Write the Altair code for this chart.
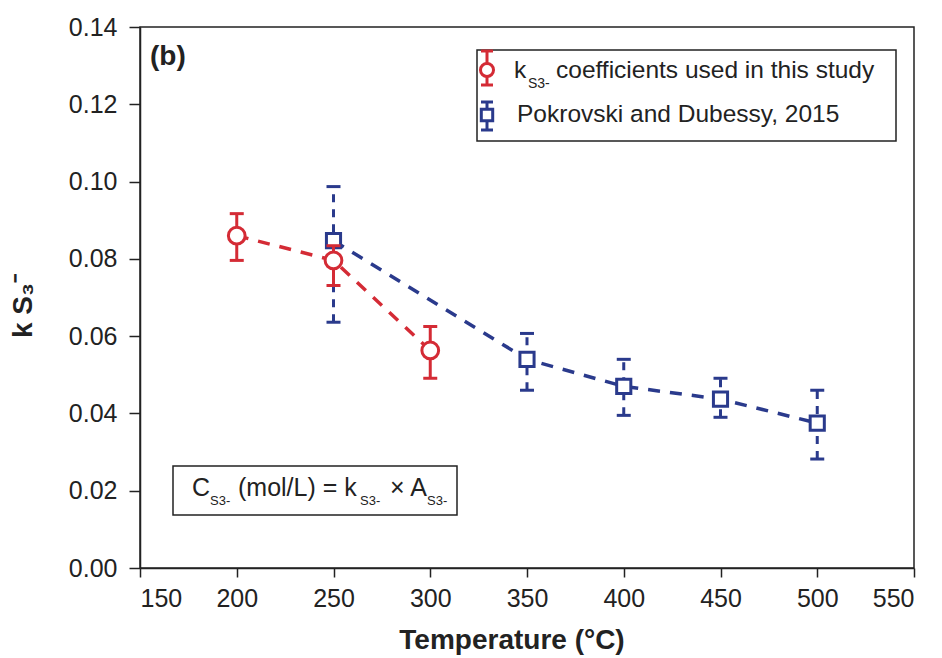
import altair as alt
import pandas as pd

# ---------------- data ----------------
red_T = [200, 250, 300]
red_k = [0.0860, 0.0796, 0.0563]
red_lo = [0.0796, 0.0731, 0.0491]
red_hi = [0.0917, 0.0834, 0.0625]

blue_T = [250, 350, 400, 450, 500]
blue_k = [0.0847, 0.0540, 0.0470, 0.0437, 0.0375]
blue_lo = [0.0636, 0.0460, 0.0395, 0.0390, 0.0282]
blue_hi = [0.0987, 0.0607, 0.0540, 0.0491, 0.0460]

x_ticks = [150, 200, 250, 300, 350, 400, 450, 500, 550]
y_ticks = [0.00, 0.02, 0.04, 0.06, 0.08, 0.10, 0.12, 0.14]

RED = "#d42b35"
BLUE = "#2a3a8c"
INK = "#222222"
FONT = "Liberation Sans"

red_df = pd.DataFrame({"T": red_T, "k": red_k, "lo": red_lo, "hi": red_hi})
blue_df = pd.DataFrame({"T": blue_T, "k": blue_k, "lo": blue_lo, "hi": blue_hi})

xscale = alt.Scale(domain=[150, 550], nice=False, zero=False)
yscale = alt.Scale(domain=[0, 0.14], nice=False)
xaxis = alt.Axis(values=x_ticks, title=None, grid=False, format="d",
                 tickSize=9, labelPadding=9)
yaxis = alt.Axis(values=y_ticks, title=None, grid=False, format=".2f",
                 tickSize=11, labelPadding=12)


def X(field):
    return alt.X(field, type="quantitative", scale=xscale, axis=xaxis)


def Y(field):
    return alt.Y(field, type="quantitative", scale=yscale, axis=yaxis)


def series(df, color, shape, size, bar_dash):
    line = alt.Chart(df).mark_line(color=color, strokeWidth=3.5,
                                   strokeDash=[12, 10]).encode(x=X("T"), y=Y("k"))
    bar_kwargs = dict(color=color, strokeWidth=3)
    if bar_dash:
        bar_kwargs["strokeDash"] = [8, 7]
    bars = alt.Chart(df).mark_rule(**bar_kwargs).encode(
        x=X("T"), y=Y("lo"), y2="hi")
    cap_lo = alt.Chart(df).mark_tick(orient="horizontal", size=14, thickness=3,
                                     color=color, opacity=1).encode(x=X("T"), y=Y("lo"))
    cap_hi = alt.Chart(df).mark_tick(orient="horizontal", size=14, thickness=3,
                                     color=color, opacity=1).encode(x=X("T"), y=Y("hi"))
    pts = alt.Chart(df).mark_point(shape=shape, size=size, filled=True,
                                   fill="white", stroke=color, strokeWidth=3,
                                   opacity=1).encode(x=X("T"), y=Y("k"))
    return [line, bars, cap_lo, cap_hi, pts]


one = pd.DataFrame({"a": [0]})


def label(text, x, y, size, bold=False, align="left", angle=0, color=INK):
    df = pd.DataFrame({"t": [text]})
    return alt.Chart(df).mark_text(
        font=FONT, fontSize=size, fontWeight="bold" if bold else "normal",
        align=align, baseline="middle", angle=angle, color=color
    ).encode(text="t:N", x=alt.value(x), y=alt.value(y))


def box(x1, x2, y1, y2):
    return alt.Chart(one).mark_rect(fill="white", stroke=INK, strokeWidth=1.5).encode(
        x=alt.value(x1), x2=alt.value(x2), y=alt.value(y1), y2=alt.value(y2))


def hrule(x1, x2, y, color, w=3):
    return alt.Chart(one).mark_rule(color=color, strokeWidth=w).encode(
        x=alt.value(x1), x2=alt.value(x2), y=alt.value(y))


def vrule(x, y1, y2, color, w=3):
    return alt.Chart(one).mark_rule(color=color, strokeWidth=w).encode(
        x=alt.value(x), y=alt.value(y1), y2=alt.value(y2))


def sym(x, y, shape, size, color):
    return alt.Chart(one).mark_point(shape=shape, size=size, filled=True, fill="white",
                                     stroke=color, strokeWidth=3, opacity=1).encode(
        x=alt.value(x), y=alt.value(y))


layers = []
layers += series(blue_df, BLUE, "square", 200, True)
layers += series(red_df, RED, "circle", 280, False)

# legend box
LX = 347
layers += [
    box(337, 756, 23, 114),
    vrule(LX, 24, 58, RED), hrule(LX - 6, LX + 6, 24, RED), hrule(LX - 6, LX + 6, 58, RED),
    sym(LX, 43, "circle", 170, RED),
    label("k", 374, 44, 24.5),
    label("S3-", 388, 57, 14),
    label("coefficients used in this study", 416, 44, 24.5),
    vrule(LX, 75, 103, BLUE), hrule(LX - 6, LX + 6, 75, BLUE), hrule(LX - 6, LX + 6, 103, BLUE),
    sym(LX, 88, "square", 130, BLUE),
    label("Pokrovski and Dubessy, 2015", 377, 88, 24.5),
]

# equation box
layers += [
    box(33, 317, 439, 488),
    label("C", 52, 461, 25),
    label("S3-", 70, 474, 13),
    label("(mol/L) = k", 98, 461, 25),
    label("S3-", 220, 474, 13),
    label("\u00d7 A", 250, 461, 25),
    label("S3-", 287, 474, 13),
]

# panel tag and axis titles
layers += [
    label("(b)", 10, 30, 28, bold=True),
    label("Temperature (\u00b0C)", 372, 614, 28, bold=True, align="center"),
    label("k S\u2083\u207b", -116, 279, 28, bold=True, align="center", angle=270),
]

chart = alt.layer(*layers).properties(
    width=774, height=541,
    autosize=alt.AutoSizeParams(type="none"),
    padding={"left": 140, "top": 27, "right": 28, "bottom": 90},
    background="white",
).configure_view(
    stroke=INK, strokeWidth=1.5
).configure_axis(
    domainColor=INK, domainWidth=1.5, tickColor=INK, tickWidth=1.5,
    labelFont=FONT, labelFontSize=25, labelColor=INK,
)

chart.save("out.html", embed_options={"renderer": "svg", "actions": False})
